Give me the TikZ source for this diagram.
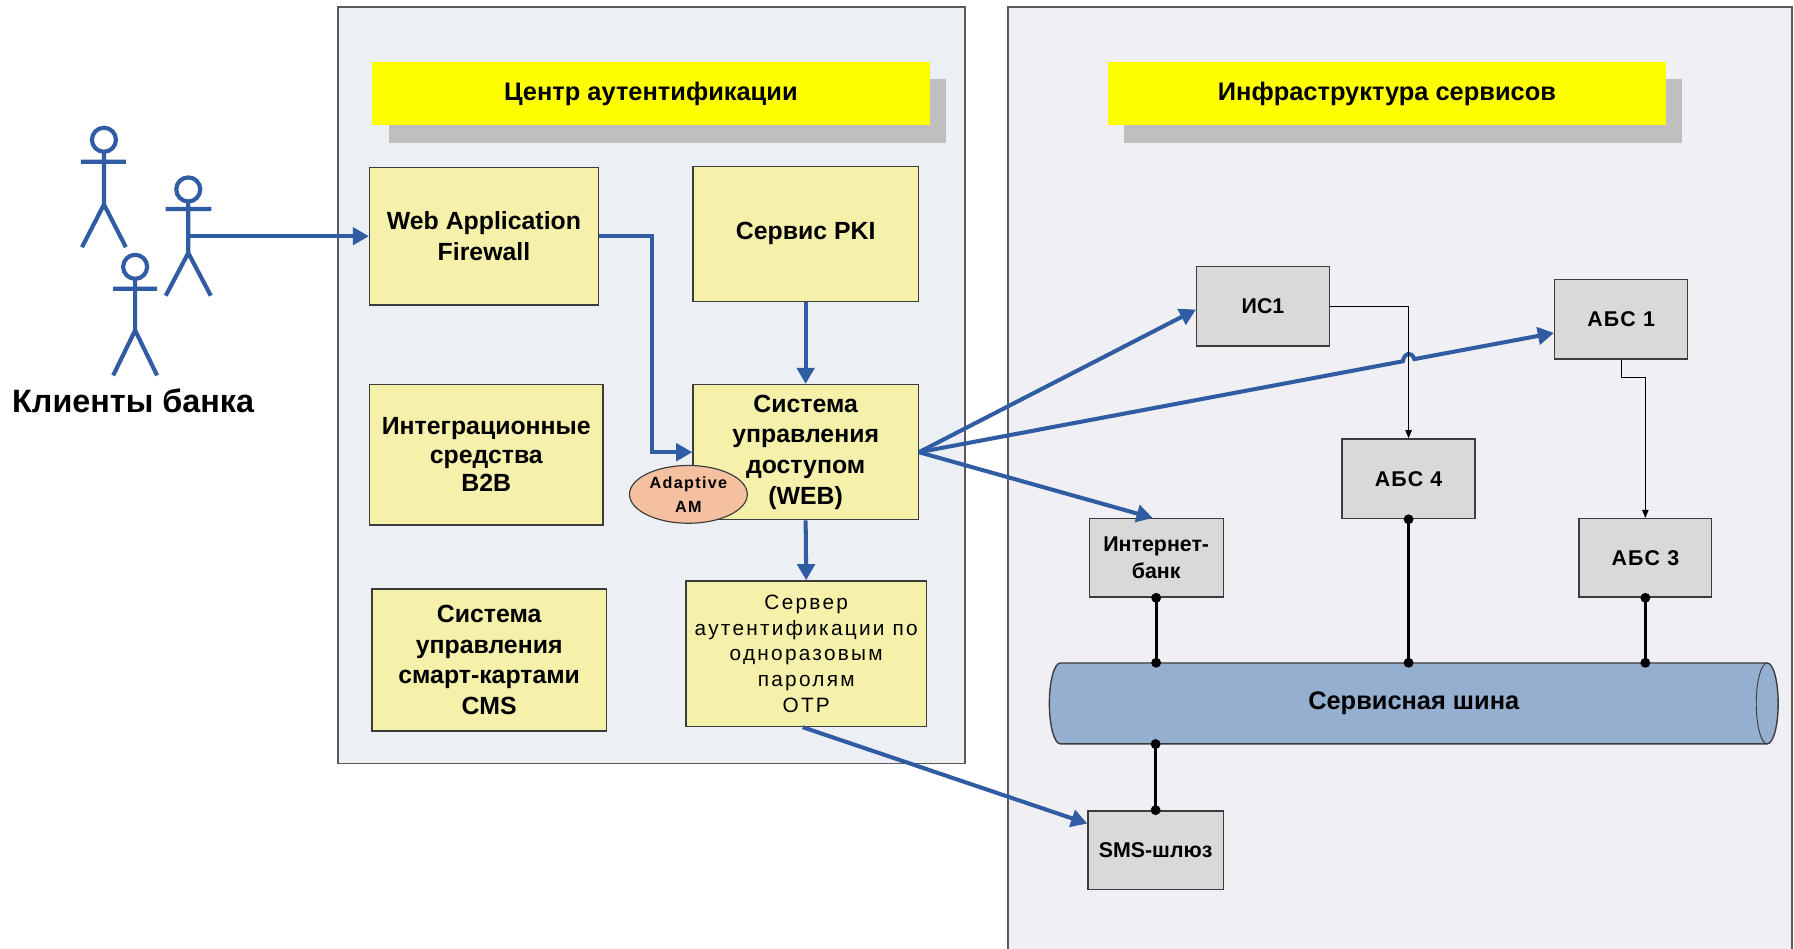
\documentclass[tikz,border=0pt]{standalone}
\usepackage{fontspec}
\setmainfont{Liberation Sans}
\usetikzlibrary{shapes.geometric,arrows.meta}
\definecolor{lpanel}{RGB}{236,239,244}
\definecolor{rpanel}{RGB}{240,239,243}
\definecolor{panelline}{RGB}{90,90,90}
\definecolor{shadowgray}{RGB}{191,191,191}
\definecolor{titleyellow}{RGB}{255,255,0}
\definecolor{boxyellow}{RGB}{245,240,170}
\definecolor{boxgray}{RGB}{217,217,217}
\definecolor{boxline}{RGB}{60,60,60}
\definecolor{busblue}{RGB}{149,175,208}
\definecolor{peach}{RGB}{244,192,160}
\definecolor{linkblue}{RGB}{47,92,162}
\begin{document}
\begin{tikzpicture}[x=1pt,y=-1pt,
  panel/.style={draw=panelline,line width=1.2pt},
  titlebox/.style={fill=titleyellow,inner sep=0pt,anchor=center,
    font=\bfseries\fontsize{22}{26}\selectfont},
  ybox/.style={draw=boxline,fill=boxyellow,line width=1.2pt,inner sep=0pt,
    anchor=center,align=center,font=\bfseries\fontsize{21.5}{26.5}\selectfont},
  gbox/.style={draw=boxline,fill=boxgray,line width=1.2pt,inner sep=0pt,
    anchor=center,align=center,minimum width=115pt,minimum height=69pt,
    font=\bfseries\fontsize{18.5}{23.5}\selectfont},
  absfont/.style={font=\bfseries\fontsize{18.5}{23.5}\selectfont\addfontfeature{LetterSpace=6}},
  conn/.style={draw=linkblue,line width=3.5pt,-{Triangle[length=14pt,width=15pt]}},
  thinconn/.style={draw=black,line width=1pt,-{Triangle[length=7pt,width=5.5pt]}},
  buslink/.style={draw=black,line width=2.5pt},
  figure/.style={draw=linkblue,line width=3.6pt},
]
\useasboundingbox (0,0) rectangle (1553.2,821.6);
\fill[white] (0,0) rectangle (1553.2,821.6);

% panels
\draw[panel,fill=lpanel] (292.6,6) rectangle (835.5,661);
\draw[panel,fill=rpanel] (872.7,6) rectangle (1551.5,840);

% titles
\fill[shadowgray] (337,68) rectangle (819,123.5);
\node[titlebox,minimum width=483pt,minimum height=54.5pt] (t1) at (563.5,81.25) {Центр аутентификации};
\fill[shadowgray] (973,68) rectangle (1456,123.5);
\node[titlebox,minimum width=483.5pt,minimum height=54.5pt] (t2) at (1200.75,81.25) {Инфраструктура сервисов};

% stick figures
\draw[figure,fill=white] (90,121) circle[radius=10.4pt];
\draw[figure] (90,131.4) -- (90,177) (70,140) -- (109,140) (71,214) -- (90,177) -- (109,214);
\draw[figure,fill=white] (163,164) circle[radius=10.4pt];
\draw[figure] (163,174.4) -- (163,219) (143.5,181) -- (183,181) (143.5,256) -- (163,219) -- (182.5,256);
\draw[figure,fill=white] (117,231) circle[radius=10.4pt];
\draw[figure] (117,241.4) -- (117,286) (98,250) -- (136,250) (98,325) -- (117,286) -- (136,325);
\coordinate (cli) at (163,204.5);
\node[anchor=base west,inner sep=0pt,font=\bfseries\fontsize{28}{32}\selectfont] (clients) at (10.4,357) {Клиенты банка};

% left boxes
\node[ybox,minimum width=198pt,minimum height=119pt] (waf) at (419,204.5) {Web Application\\Firewall};
\node[ybox,minimum width=195pt,minimum height=117pt] (pki) at (697.5,202.5) {Сервис PKI};
\node[ybox,minimum width=195pt,minimum height=117pt] (sud) at (697.5,391.5) {Система\\управления\\доступом\\(WEB)};
\node[ybox,minimum width=202pt,minimum height=121.5pt,font=\bfseries\fontsize{21.5}{24.5}\selectfont] (b2b) at (421,393.7) {Интеграционные\\средства\\B2B};
\node[ybox,minimum width=203pt,minimum height=123pt] (cms) at (423.5,571.5) {Система\\управления\\смарт-картами\\CMS};
\node[ybox,minimum width=208pt,minimum height=126pt,
  font=\fontsize{18}{22.2}\selectfont\addfontfeature{LetterSpace=11}] (otp) at (698,566) {Сервер\\аутентификации по\\одноразовым\\паролям\\OTP};
\node[ellipse,draw=boxline,fill=peach,line width=1pt,inner sep=0pt,minimum width=102pt,minimum height=50pt,
  align=center,font=\bfseries\fontsize{14}{20.6}\selectfont\addfontfeature{LetterSpace=8}] (aam) at (596,428) {Adaptive\\AM};

% bus
\draw[draw=boxline,line width=1.2pt,fill=busblue] (918,574) -- (1530,574)
  arc[start angle=90,end angle=-90,x radius=9.5pt,y radius=35pt] -- (918,644)
  arc[start angle=270,end angle=90,x radius=9.5pt,y radius=35pt] -- cycle;
\draw[draw=boxline,line width=0.8pt] (1530,574) arc[start angle=90,end angle=270,x radius=9.5pt,y radius=35pt];
\node[inner sep=0pt,minimum width=612pt,minimum height=70pt,font=\bfseries\fontsize{22}{26}\selectfont] (bus) at (1224,609) {Сервисная шина};

% right boxes
\node[gbox,font=\bfseries\fontsize{18.5}{23.5}\selectfont] (is1) at (1093.5,265) {ИС1};
\node[gbox,absfont] (abs1) at (1403.5,276.25) {АБС 1};
\node[gbox,absfont] (abs4) at (1219.5,414.5) {АБС 4};
\node[gbox,minimum width=116pt,minimum height=68pt] (inet) at (1001,483) {Интернет-\\банк};
\node[gbox,absfont,minimum height=68pt] (abs3) at (1424.5,483) {АБС 3};
\node[gbox,minimum width=117pt,minimum height=68pt] (sms) at (1000.5,736) {SMS-шлюз};

% blue connectors
\draw[conn] (cli) -- (waf.west);
\coordinate (wbend) at (564.7,204.5);
\draw[conn] (waf.east) -- (wbend) |- (sud.west);
\draw[conn] (pki.south) -- (sud.north);
\draw[conn] (sud.south) -- (otp.north);
\draw[conn] ([xshift=-3pt]otp.south) -- ([yshift=23pt]sms.west);
\draw[conn] (sud.east) -- ([yshift=-3pt]is1.west);
\coordinate (j1) at (1214.5,312.8);
\coordinate (j2) at (1224.5,310.9);
\draw[conn] (sud.east) -- (j1) .. controls (1216,305) and (1222,304) .. (j2) -- ([yshift=-12pt]abs1.west);
\draw[conn] (sud.east) -- ([xshift=-3pt]inet.north);

% thin connectors
\draw[thinconn] (is1.east) -| (abs4.north);
\coordinate (k1) at (1403.5,327);
\draw[thinconn] (abs1.south) -- (k1) -| (abs3.north);

% bus links
\draw[buslink] (inet.south) -- (inet.south |- bus.north);
\draw[buslink] (abs4.south) -- (abs4.south |- bus.north);
\draw[buslink] (abs3.south) -- (abs3.south |- bus.north);
\draw[buslink] (sms.north |- bus.south) -- (sms.north);
\fill (inet.south) circle[radius=4.3pt] (inet.south |- bus.north) circle[radius=4.3pt];
\fill (abs4.south) circle[radius=4.3pt] (abs4.south |- bus.north) circle[radius=4.3pt];
\fill (abs3.south) circle[radius=4.3pt] (abs3.south |- bus.north) circle[radius=4.3pt];
\fill (sms.north |- bus.south) circle[radius=4.3pt] (sms.north) circle[radius=4.3pt];
\end{tikzpicture}
\end{document}
